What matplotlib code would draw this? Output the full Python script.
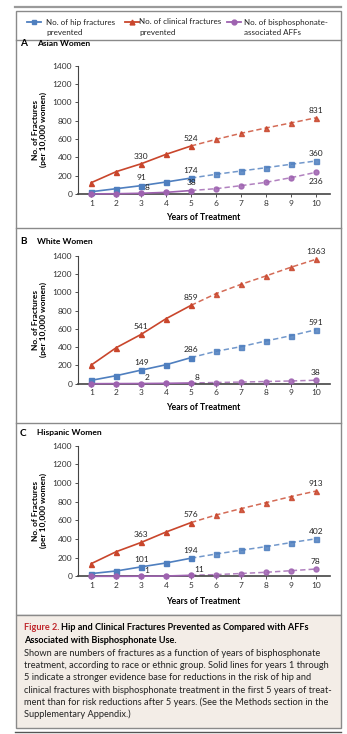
import matplotlib
matplotlib.use("Agg")
import matplotlib.pyplot as plt
from matplotlib.patches import Rectangle
from matplotlib.lines import Line2D

plt.rcParams['font.family'] = ['Lato', 'DejaVu Sans']

W, H = 347, 734

years = [1, 2, 3, 4, 5, 6, 7, 8, 9, 10]

asian_hip = [25, 58, 91, 131, 174, 215, 251, 287, 324, 360]
asian_clin = [124, 244, 330, 433, 524, 596, 662, 720, 775, 831]
asian_aff = [1, 3, 8, 18, 38, 58, 91, 127, 178, 236]

white_hip = [37, 88, 149, 208, 286, 355, 406, 468, 526, 591]
white_clin = [205, 395, 541, 713, 859, 987, 1089, 1181, 1276, 1363]
white_aff = [0, 1, 2, 4, 8, 13, 18, 24, 30, 38]

hisp_hip = [29, 57, 101, 143, 194, 239, 279, 318, 361, 402]
hisp_clin = [136, 264, 363, 475, 576, 657, 725, 789, 854, 913]
hisp_aff = [0, 0, 1, 3, 11, 18, 30, 43, 60, 78]

yticks = [0, 200, 400, 600, 800, 1000, 1200, 1400]

BLUE = '#4f7fbf'
RED = '#c9462c'
PURPLE = '#9e62b0'
EDGE = '#8a8a8a'

fig = plt.figure(figsize=(W / 100, H / 100), dpi=100)


def px(x, y):
    return x / W, 1 - y / H


def box(x0, y0, x1, y1, **kw):
    fx, fy = px(x0, y1)
    fig.add_artist(Rectangle((fx, fy), (x1 - x0) / W, (y1 - y0) / H,
                             transform=fig.transFigure, zorder=-10, **kw))


def hline(x0, x1, y, color=EDGE, lw=1.0):
    fig.add_artist(Line2D([x0 / W, x1 / W], [1 - y / H, 1 - y / H],
                          transform=fig.transFigure, color=color, lw=lw,
                          zorder=-5))


def ftext(x, y, s, **kw):
    fx, fy = px(x, y)
    fig.text(fx, fy, s, **kw)


# frame and separators
hline(15, 341, 7, color='#9a9a9a', lw=1.6)
box(16, 11, 341, 615, facecolor='white', edgecolor=EDGE, lw=1.0)
hline(16, 341, 39.5)
hline(16, 341, 228)
hline(16, 341, 422.5)
box(16, 615, 341, 728, facecolor='#f3ede7', edgecolor=EDGE, lw=1.0)
hline(15, 341, 731.5, color='#555555', lw=1.0)

# legend
legend_items = [
    (27, 46, BLUE, 's', 'No. of hip fractures', 'prevented'),
    (125, 139, RED, '^', 'No. of clinical fractures', 'prevented'),
    (227, 244, PURPLE, 'o', 'No. of bisphosphonate-', 'associated AFFs'),
]
for lx, tx, col, mk, lab1, lab2 in legend_items:
    fig.add_artist(Line2D([lx / W, (lx + 14) / W], [1 - 22 / H] * 2,
                          transform=fig.transFigure, color=col, lw=1.3))
    fig.add_artist(Line2D([(lx + 7) / W], [1 - 22 / H], marker=mk,
                          markersize=3.5, color=col, transform=fig.transFigure))
    ftext(tx, 22, lab1, fontsize=5.8, va='center', ha='left', color='#222222')
    ftext(tx, 32.5, lab2, fontsize=5.8, va='center', ha='left', color='#222222')

panels = [
    ('A', 'Asian Women', 44, 65.7, 194.0, 218,
     asian_hip, asian_clin, asian_aff,
     {'clin': [(3, 'above'), (5, 'above'), (10, 'above')],
      'hip': [(3, 'above'), (5, 'above'), (10, 'above')],
      'aff': [(3, 'right'), (5, 'above'), (10, 'below')]}),
    ('B', 'White Women', 241.5, 256.0, 383.7, 408,
     white_hip, white_clin, white_aff,
     {'clin': [(3, 'above'), (5, 'above'), (10, 'above')],
      'hip': [(3, 'above'), (5, 'above'), (10, 'above')],
      'aff': [(3, 'right'), (5, 'right'), (10, 'above')]}),
    ('C', 'Hispanic Women', 433, 445.7, 576.3, 601,
     hisp_hip, hisp_clin, hisp_aff,
     {'clin': [(3, 'above'), (5, 'above'), (10, 'above')],
      'hip': [(3, 'above'), (5, 'above'), (10, 'above')],
      'aff': [(3, 'right'), (5, 'right'), (10, 'above')]}),
]

x_left, x_right = 77.7, 330.0
x1_px, x10_px = 91.3, 315.7
unit = (x10_px - x1_px) / 9
xmin = 1 - (x1_px - x_left) / unit
xmax = 10 + (x_right - x10_px) / unit

for letter, title, ty, top, bottom, xl_y, hip, clin, aff, labels in panels:
    ftext(20, ty, letter, fontsize=7.2, fontweight='bold', va='center')
    ftext(37, ty, title, fontsize=6.1, fontweight='bold', va='center')

    ax = fig.add_axes([x_left / W, 1 - bottom / H, (x_right - x_left) / W,
                       (bottom - top) / H])
    ax.set_xlim(xmin, xmax)
    ax.set_ylim(0, 1400)
    for s in ('top', 'right'):
        ax.spines[s].set_visible(False)
    for s in ('left', 'bottom'):
        ax.spines[s].set_color('#444444')
        ax.spines[s].set_linewidth(0.8)
    ax.spines['bottom'].set_linewidth(1.2)
    ax.set_yticks(yticks)
    ax.set_xticks(years)
    ax.tick_params(axis='both', labelsize=6, colors='#333333', length=2.5,
                   width=0.6, pad=1.5)
    ax.patch.set_alpha(0)

    series = [('hip', hip, BLUE, 's'), ('clin', clin, RED, '^'),
              ('aff', aff, PURPLE, 'o')]
    for key, vals, col, mk in series:
        ax.plot(years[:5], vals[:5], color=col, lw=1.2, marker=mk,
                markersize=3.6, clip_on=False, zorder=3)
        ax.plot(years[4:], vals[4:], color=col, lw=1.1, ls=(0, (3.5, 2)),
                alpha=0.8, zorder=2)
        ax.plot(years[5:], vals[5:], color=col, lw=0, marker=mk,
                markersize=3.6, alpha=0.85, clip_on=False, zorder=3)
        for yr, pos in labels[key]:
            v = vals[yr - 1]
            if pos == 'above':
                ax.annotate(str(v), (yr, v), xytext=(0, 3),
                            textcoords='offset points', ha='center',
                            va='bottom', fontsize=6, color='#222222')
            elif pos == 'below':
                ax.annotate(str(v), (yr, v), xytext=(0, -4),
                            textcoords='offset points', ha='center',
                            va='top', fontsize=6, color='#222222')
            else:
                ax.annotate(str(v), (yr, v), xytext=(2.5, 1.5),
                            textcoords='offset points', ha='left',
                            va='bottom', fontsize=6, color='#222222')

    ax.set_ylabel('No. of Fractures\n(per 10,000 women)', fontsize=6.0,
                  fontweight='bold', linespacing=1.1, labelpad=4)
    ftext(203, xl_y, 'Years of Treatment',
          fontsize=6.2, fontweight='bold', ha='center', va='center')

# caption
ftext(24, 628, 'Figure 2.', fontsize=6.6, fontweight='bold', color='#c0282d',
      va='center')
ftext(61, 628, 'Hip and Clinical Fractures Prevented as Compared with AFFs',
      fontsize=6.6, fontweight='bold', va='center')
ftext(24, 640.5, 'Associated with Bisphosphonate Use.', fontsize=6.6,
      fontweight='bold', va='center')
body = ['Shown are numbers of fractures as a function of years of bisphosphonate',
        'treatment, according to race or ethnic group. Solid lines for years 1 through',
        '5 indicate a stronger evidence base for reductions in the risk of hip and',
        'clinical fractures with bisphosphonate treatment in the first 5 years of treat-',
        'ment than for risk reductions after 5 years. (See the Methods section in the',
        'Supplementary Appendix.)']
for i, line in enumerate(body):
    ftext(24, 653.5 + i * 12.2, line, fontsize=6.7, va='center',
          color='#222222')

fig.savefig('out.png', dpi=100)
